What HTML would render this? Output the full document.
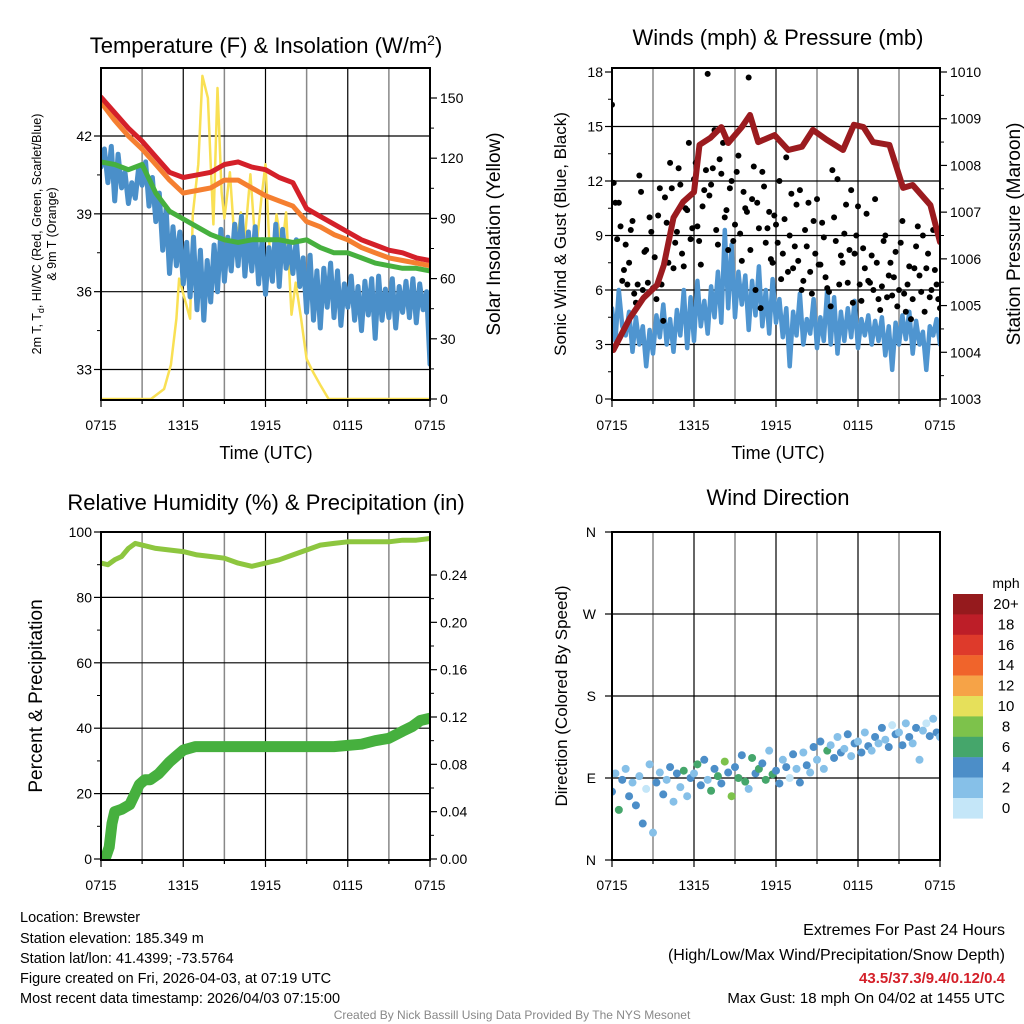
<!DOCTYPE html>
<html><head><meta charset="utf-8"><style>
body{margin:0;background:#fff;width:1024px;height:1024px;overflow:hidden;font-family:"Liberation Sans",sans-serif}
svg{display:block}
text{font-family:"Liberation Sans",sans-serif;fill:#000}
</style></head><body>
<svg id="c" width="1024" height="1024" viewBox="0 0 1024 1024"></svg>
<script>
// ---------- DATA ----------
const xTickLabels = ["0715","1315","1915","0115","0715"];
// Panel 1 temperature (hourly, F)
const tempRed = [43.5,42.9,42.3,41.8,41.2,40.6,40.4,40.5,40.6,40.9,41.0,40.8,40.7,40.4,40.2,39.2,38.9,38.6,38.3,38.0,37.8,37.6,37.5,37.3,37.2];
const tempOrange = [43.3,42.6,42.0,41.5,40.9,40.3,39.8,39.9,40.0,40.3,40.3,40.0,39.7,39.5,39.3,38.7,38.5,38.2,38.0,37.7,37.5,37.3,37.2,37.1,37.0];
const tempGreen = [41.0,40.9,40.7,40.9,39.8,39.1,38.8,38.5,38.2,38.0,37.9,38.0,38.0,38.0,37.9,38.0,37.7,37.5,37.5,37.3,37.1,37.0,36.9,36.9,36.8];
// dewpoint quarter-hourly
const tempBlue = [40.8,41.5,40.2,41.6,39.5,41.3,40.0,40.6,39.4,40.2,39.6,40.8,40.1,41.0,39.3,40.4,38.7,39.8,37.6,39.2,36.7,38.5,37.0,38.3,36.3,37.9,35.8,38.1,35.3,37.6,34.9,37.2,35.6,37.8,36.0,38.4,36.4,38.1,36.8,38.6,37.0,38.9,36.6,38.3,36.8,38.5,36.3,38.0,35.9,37.7,36.4,38.6,36.2,38.4,36.9,37.8,36.7,38.0,36.2,37.3,35.2,37.4,34.9,36.8,34.6,36.9,35.4,37.1,35.0,36.8,34.7,36.3,35.4,36.6,34.9,36.2,34.5,36.4,35.1,36.5,34.2,36.6,34.9,36.1,35.0,36.5,34.6,36.2,35.2,36.4,35.0,36.5,34.8,36.3,35.3,36.0,33.2];
const tempTicks = [33,36,39,42];
const solarTicks = [0,30,60,90,120,150];
const solarHours = [0,3.65,4.6,5.1,5.5,5.7,6.1,6.5,6.7,7.1,7.4,7.8,8.0,8.2,8.5,8.8,9.0,9.4,9.8,10.2,10.5,10.9,11.3,11.7,12.0,12.4,12.8,13.2,13.5,13.9,14.2,14.6,15.0,15.5,16.0,16.6,24];
const solarValues = [0,0,5,17,40,60,50,40,92,117,161,150,117,87,155,103,90,113,73,93,80,112,73,100,117,60,92,75,93,42,58,40,20,13,7,0,0];
// Panel 2 winds
const windSonic = [5.0,3.2,6.0,4.0,3.5,4.8,2.6,4.5,3.0,4.0,1.8,3.8,2.5,4.6,3.4,5.2,3.0,4.4,2.6,4.9,3.5,6.0,2.8,5.6,3.2,6.5,4.0,5.4,3.6,6.2,4.5,7.0,4.2,9.3,5.0,8.5,4.5,7.0,5.2,6.8,3.8,6.5,4.6,7.3,4.0,6.0,3.6,6.6,4.2,5.5,3.4,5.0,1.8,4.8,3.5,5.8,3.0,4.4,3.6,5.5,2.8,4.5,3.2,6.1,3.0,5.6,2.5,4.8,3.2,5.0,3.4,5.4,2.8,4.4,3.5,4.6,3.0,4.3,3.2,4.5,2.4,4.0,1.6,4.2,3.0,4.6,3.3,4.8,2.5,4.3,3.0,3.7,1.6,4.0,3.5,4.4,3.0];
const windGust = [16.2,10.8,10.8,6.5,8.5,7.5,9.8,5.3,12.3,6.0,8.2,10.0,6.1,5.5,11.6,4.3,9.7,13.0,7.2,9.2,11.8,7.3,10.4,8.8,12.1,9.5,7.4,11.5,17.9,11.8,14.8,8.5,12.4,10.0,8.2,12.0,9.6,13.4,7.6,10.5,17.7,11.0,6.0,9.4,12.5,8.6,10.3,7.5,9.6,12.0,8.0,13.3,9.0,7.2,10.7,11.5,6.5,8.4,7.0,9.8,11.0,7.4,8.9,6.1,5.1,10.0,12.1,7.9,9.1,6.4,11.5,8.0,10.6,5.4,7.2,6.5,7.9,11.0,5.5,6.2,9.0,6.8,5.7,8.1,6.0,9.8,4.8,7.3,5.5,8.4,6.8,9.0,7.2,5.6,9.3,6.3,5.0];
const windGust2 = [11.9,8.8,9.5,7.1,6.3,9.3,5.8,6.3,11.4,8.1,6.4,9.2,7.8,10.1,6.3,11.1,7.5,11.6,8.6,12.7,8.0,10.5,14.1,9.4,13.0,8.7,10.6,12.6,11.2,12.7,9.3,13.2,14.1,10.4,11.6,8.7,12.5,9.1,11.4,10.3,8.2,12.8,10.8,5.0,11.7,9.4,7.7,10.1,8.6,6.6,9.9,7.0,11.3,8.4,7.6,6.0,9.3,10.8,5.8,8.0,7.4,9.7,6.7,5.9,12.6,8.7,6.3,7.5,10.7,8.2,5.3,9.0,6.3,8.3,10.2,6.4,6.0,7.5,4.9,8.7,5.6,7.5,6.7,5.1,8.6,5.8,6.3,4.4,7.2,9.5,5.9,4.8,8.0,6.0,7.1,5.5];
const windTicks = [0,3,6,9,12,15,18];
const presTicks = [1003,1004,1005,1006,1007,1008,1009,1010];
const presHours = [0,0.1,1.3,2.3,3.3,3.8,4.5,5.2,6.0,6.4,7.2,8.0,8.5,9.5,10.1,10.7,11.9,12.9,13.9,14.7,15.7,16.9,17.7,18.4,19.1,20.3,21.3,22.0,23.3,24];
const presValues = [1004.05,1004.05,1004.73,1005.16,1005.44,1005.87,1006.88,1007.22,1007.43,1008.44,1008.59,1008.82,1008.48,1008.82,1009.08,1008.50,1008.65,1008.33,1008.40,1008.76,1008.55,1008.33,1008.87,1008.82,1008.50,1008.44,1007.52,1007.58,1007.15,1006.36];
// Panel 3
const rhHours = [0,0.5,1,1.5,2,2.5,3,4,5,6,7,8,9,10,11,12,13,14,15,16,17,18,19,20,21,22,23,24];
const rhValues = [90.5,90,91.5,92.5,95,96.5,96,95,94.5,94,93,92.5,92,90.5,89.5,90.5,91.5,93,94.5,96,96.5,97,97,97,97,97.5,97.5,98];
const precipHours = [0,0.3,0.6,0.8,1.0,1.5,2.1,2.8,3.2,3.6,4.2,5.0,5.4,6.0,6.9,17.0,18.0,19.0,20.0,21.0,22.0,22.7,23.3,24];
const precipValues = [0,0,0.01,0.03,0.04,0.042,0.046,0.063,0.067,0.067,0.072,0.082,0.086,0.092,0.095,0.095,0.096,0.097,0.1,0.102,0.108,0.112,0.117,0.119];
const rhTicks = [0,20,40,60,80,100];
const precipTicks = [0,0.04,0.08,0.12,0.16,0.2,0.24];
// Panel 4
const dirValues = [75,95,55,88,100,70,85,60,92,40,78,105,30,85,96,72,88,102,64,95,80,98,70,90,95,105,82,110,88,76,100,92,84,108,96,70,102,90,115,86,78,112,95,100,106,88,120,94,98,84,110,102,90,116,100,85,118,104,96,124,110,130,100,120,126,112,135,118,122,138,114,128,130,118,140,125,120,135,128,145,132,124,148,138,140,126,150,135,128,145,110,142,150,136,155,140,135];
const dirTickLabels = ["N","E","S","W","N"];
const speedLabels = ["20+","18","16","14","12","10","8","6","4","2","0"];
const speedColors = ["#951a1d","#bd1e28","#de3a2b","#f0642b","#f6a347","#e6e05a","#7dc24b","#45a66b","#4c8ec8","#86c0e8","#c4e6f8"];

// ---------- DRAWING ----------
const svg = document.getElementById('c');
const NS = 'http://www.w3.org/2000/svg';
function el(tag, attrs, parent){ const e=document.createElementNS(NS,tag); for(const k in attrs) e.setAttribute(k,attrs[k]); (parent||svg).appendChild(e); return e; }
function txt(x,y,s,size,anchor,parent,extra){ const t=el('text',Object.assign({x:x,y:y,'font-size':size,'text-anchor':anchor||'middle'},extra||{}),parent); t.textContent=s; return t; }

const P = [
 {x0:101,x1:430,y0:68,y1:400},
 {x0:612,x1:940,y0:68,y1:400},
 {x0:101,x1:430,y0:532,y1:860},
 {x0:612,x1:940,y0:532,y1:860}
];
function xs(p,h){ return p.x0 + (p.x1-p.x0)*h/24; }
function lin(d0,d1,r0,r1){ return v => r0 + (v-d0)*(r1-r0)/(d1-d0); }

function frame(p, name, hLines){
  const g = el('g',{});
  
  
  for(let i=1;i<8;i++){ const x=xs(p,i*3); const l=el('line',{x1:x,y1:p.y0,x2:x,y2:p.y1,stroke:i%2?'#888':'#000','stroke-width':i%2?1.5:1.2},g);
    
     }
  hLines.forEach(y=>{ const l=el('line',{x1:p.x0,y1:y,x2:p.x1,y2:y,stroke:'#000','stroke-width':1.2},g);
    
     });
  for(let i=0;i<=8;i++){ const x=xs(p,i*3); el('line',{x1:x,y1:p.y1,x2:x,y2:p.y1+(i%2?4:7),stroke:'#000','stroke-width':1.2},g); }
  xTickLabels.forEach((s,i)=>{ const t=txt(xs(p,i*6),p.y1+30,s,14,'middle',g);
    
     });
  return g;
}
function border(p){ const r=el('rect',{x:p.x0,y:p.y0,width:p.x1-p.x0,height:p.y1-p.y0,fill:'none',stroke:'#000','stroke-width':2});
  
   }
function leftAxis(p,ticks,sc,fmt,minorStep){
  ticks.forEach(v=>{ const y=sc(v); el('line',{x1:p.x0-7,y1:y,x2:p.x0,y2:y,stroke:'#000','stroke-width':1.2});
    const t=txt(p.x0-9,y+5,fmt(v),14,'end');   });
  if(minorStep){ for(let i=0;i<ticks.length-1;i++){ const v=(ticks[i]+ticks[i+1])/2; const y=sc(v); el('line',{x1:p.x0-4,y1:y,x2:p.x0,y2:y,stroke:'#000','stroke-width':1}); } }
}
function rightAxis(p,ticks,sc,fmt){
  ticks.forEach(v=>{ const y=sc(v); el('line',{x1:p.x1,y1:y,x2:p.x1+7,y2:y,stroke:'#000','stroke-width':1.2});
    const t=txt(p.x1+10,y+5,fmt(v),14,'start');   });
  for(let i=0;i<ticks.length-1;i++){ const y=sc((ticks[i]+ticks[i+1])/2); el('line',{x1:p.x1,y1:y,x2:p.x1+4,y2:y,stroke:'#000','stroke-width':1}); }
}
function poly(pts,color,w,name,parent){ const e=el('polyline',{points:pts.map(q=>q[0].toFixed(1)+','+q[1].toFixed(1)).join(' '),fill:'none',stroke:color,'stroke-width':w,'stroke-linejoin':'round','stroke-linecap':'round'},parent);
  
   return e; }
function clip(id,p){ const c=el('clipPath',{id:id}); el('rect',{x:p.x0,y:p.y0,width:p.x1-p.x0,height:p.y1-p.y0},c); const g=el('g',{'clip-path':'url(#'+id+')'}); return g; }

// ===== Panel 1 =====
{
 const p=P[0]; const ty=lin(42,33,136,369.5); const sy=lin(0,150,399,98);
 frame(p,'temperature-grid',tempTicks.map(ty));
 const g=clip('c1',p);
 
 
 poly(solarHours.map((h,i)=>[xs(p,h),sy(solarValues[i])]),'#f9e054',2.5,'solar-insolation-line',g);
 poly(tempBlue.map((v,i)=>[xs(p,i/4),ty(v)]),'#4a8fc9',5,'dewpoint-line',g);
 poly(tempGreen.map((v,i)=>[xs(p,i),ty(v)]),'#46b03e',5,'heat-index-line',g);
 poly(tempOrange.map((v,i)=>[xs(p,i),ty(v)]),'#f57f30',5,'temp-9m-line',g);
 poly(tempRed.map((v,i)=>[xs(p,i),ty(v)]),'#d42029',5,'temp-2m-line',g);
 border(p);
 leftAxis(p,tempTicks,ty,v=>String(v),true);
 rightAxis(p,solarTicks,sy,v=>String(v));
 const t=el('text',{x:266,y:53,'font-size':22,'text-anchor':'middle'}); t.innerHTML='Temperature (F) &amp; Insolation (W/m<tspan dy="-8" font-size="14">2</tspan><tspan dy="8">)</tspan>';
  
 const xl=txt(266,459,'Time (UTC)',18);  
 const yl=el('text',{x:0,y:0,'font-size':12.5,'text-anchor':'middle',transform:'translate(41,234) rotate(-90)'});
 yl.innerHTML='2m T, T<tspan dy="3" font-size="9">d</tspan><tspan dy="-3">, HI/WC (Red, Green, Scarlet/Blue)</tspan>';
  
 const yl2=el('text',{x:0,y:0,'font-size':12.5,'text-anchor':'middle',transform:'translate(56,234) rotate(-90)'}); yl2.textContent='& 9m T (Orange)';
  
 const rl=el('text',{x:0,y:0,'font-size':19,'text-anchor':'middle',transform:'translate(500,234) rotate(-90)'}); rl.textContent='Solar Insolation (Yellow)';
  
}
// ===== Panel 2 =====
{
 const p=P[1]; const wy=lin(0,18,399,72); const py=lin(1003,1010,399,72);
 frame(p,'wind-grid',[3,6,9,12,15].map(wy));
 const g=clip('c2',p);
 
 
 poly(windSonic.map((v,i)=>[xs(p,i/4),wy(v)]),'#4f95d0',4.5,'sonic-wind-line',g);
 windGust.forEach((v,i)=>{ const c=el('circle',{cx:xs(p,i/4),cy:wy(v),r:3,fill:'#000'},g);
   
    });
 windGust2.forEach((v,i)=>{ const c=el('circle',{cx:xs(p,i/4+0.125),cy:wy(v),r:3,fill:'#000'},g);
   
    });
 poly(presHours.map((h,i)=>[xs(p,h),py(presValues[i])]),'#9b1b1f',6,'pressure-line',g);
 border(p);
 leftAxis(p,windTicks,wy,v=>String(v),true);
 rightAxis(p,presTicks,py,v=>String(v));
 const t=txt(778,45,'Winds (mph) & Pressure (mb)',22);  
 const xl=txt(778,459,'Time (UTC)',18);  
 const yl=el('text',{x:0,y:0,'font-size':17,'text-anchor':'middle',transform:'translate(566,234) rotate(-90)'}); yl.textContent='Sonic Wind & Gust (Blue, Black)';
  
 const rl=el('text',{x:0,y:0,'font-size':19,'text-anchor':'middle',transform:'translate(1020,234) rotate(-90)'}); rl.textContent='Station Pressure (Maroon)';
  
}
// ===== Panel 3 =====
{
 const p=P[2]; const ry=lin(0,100,859,532); const qy=lin(0,0.24,859,575);
 frame(p,'humidity-grid',[20,40,60,80].map(ry));
 const g=clip('c3',p);
 
 
 poly(rhHours.map((h,i)=>[xs(p,h),ry(rhValues[i])]),'#8dc63f',5,'humidity-line',g);
 poly(precipHours.map((h,i)=>[xs(p,h),qy(precipValues[i])]),'#46b03e',11,'precipitation-line',g);
 border(p);
 leftAxis(p,rhTicks,ry,v=>String(v),true);
 rightAxis(p,precipTicks,qy,v=>v.toFixed(2));
 const t=txt(266,510,'Relative Humidity (%) & Precipitation (in)',22);  
 const yl=el('text',{x:0,y:0,'font-size':19,'text-anchor':'middle',transform:'translate(42,696) rotate(-90)'}); yl.textContent='Percent & Precipitation';
  
}
// ===== Panel 4 =====
{
 const p=P[3]; const dy=lin(0,360,860,532);
 frame(p,'direction-grid',[90,180,270].map(dy));
 const g=clip('c4',p);
 
 
 dirValues.forEach((d,i)=>{ const s=windSonic[i]; let idx=10-Math.min(10,Math.floor(s/2));
   const c=el('circle',{cx:xs(p,i/4),cy:dy(d),r:4,fill:speedColors[idx]},g);
   
    });
 border(p);
 dirTickLabels.forEach((s,i)=>{ const y=dy(i*90); el('line',{x1:p.x0-7,y1:y,x2:p.x0,y2:y,stroke:'#000','stroke-width':1.2});
   const t=txt(p.x0-16,y+5,s,14,'end');   });
 const t=txt(778,505,'Wind Direction',22);  
 const yl=el('text',{x:0,y:0,'font-size':17,'text-anchor':'middle',transform:'translate(567,696) rotate(-90)'}); yl.textContent='Direction (Colored By Speed)';
  
 const lg=el('g',{});
 
 
 txt(1006,588,'mph',14,'middle',lg);
 speedLabels.forEach((s,i)=>{ const y=594+i*20.4; el('rect',{x:953,y:y,width:30,height:20.6,fill:speedColors[i]},lg);
   const tt=txt(1006,y+15,s,15,'middle',lg);   });
}
// ===== Footer =====
{
 const info=["Location: Brewster","Station elevation: 185.349 m","Station lat/lon: 41.4399; -73.5764","Figure created on Fri, 2026-04-03, at 07:19 UTC","Most recent data timestamp: 2026/04/03 07:15:00"];
 const ys=[922,943,963,983,1003];
 info.forEach((s,i)=>{ const t=txt(20,ys[i],s,14.5,'start');   });
 let t=txt(1005,935,'Extremes For Past 24 Hours',16,'end');  
 t=txt(1005,960,'(High/Low/Max Wind/Precipitation/Snow Depth)',16,'end');  
 t=txt(1005,983,'43.5/37.3/9.4/0.12/0.4',15,'end',svg,{'font-weight':'bold',fill:'#d42029',style:'fill:#d42029'});  
 t=txt(1005,1003,'Max Gust: 18 mph On 04/02 at 1455 UTC',15,'end');  
 t=txt(512,1019,'Created By Nick Bassill Using Data Provided By The NYS Mesonet',12,'middle',svg,{style:'fill:#888'});  
}
</script>
</body></html>
